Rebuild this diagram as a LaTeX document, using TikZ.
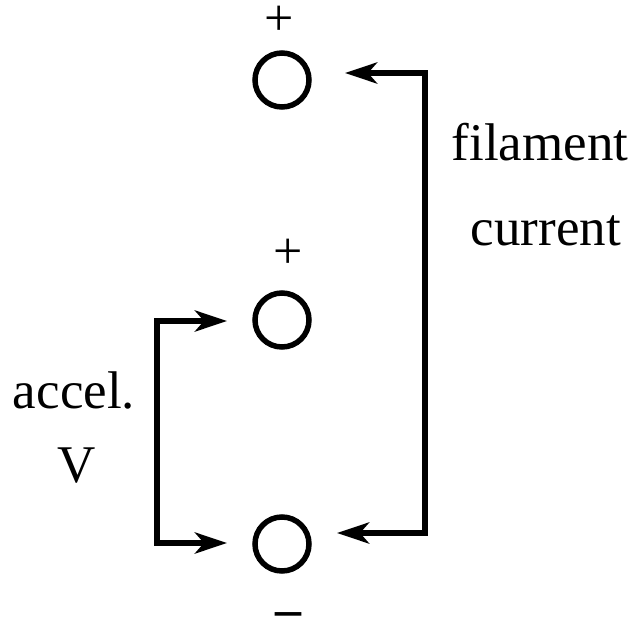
\documentclass[tikz,border=0pt]{standalone}
\usepackage{fontspec}
\setmainfont{Liberation Serif}
\usetikzlibrary{arrows.meta}
\begin{document}
\begin{tikzpicture}[x=1pt,y=-1pt,
  term/.style={circle,draw,line width=5.5pt,minimum size=54pt,inner sep=0pt},
  lbl/.style={font=\fontsize{53}{60}\selectfont,anchor=base,inner sep=0pt},
  sign/.style={font=\fontsize{52}{60}\selectfont,anchor=base,inner sep=0pt},
  wire/.style={line width=6pt,-{Stealth[length=32pt,width=21pt,inset=9pt]}}]
\useasboundingbox (0,0) rectangle (638,619);
\node[term] (c1) at (282,80) {};
\node[term] (c2) at (282,320) {};
\node[term] (c3) at (282,544) {};
\node[sign] (p1) at (279,35) {\raisebox{0pt}[\height][0pt]{+}};
\node[sign] (p2) at (288,268) {\raisebox{0pt}[\height][0pt]{+}};
\node[sign,font=\fontsize{52}{60}\selectfont\bfseries] (m3) at (288,616) {\raisebox{-10pt}[\height][0pt]{–}};
\node[lbl] (t1) at (540,160) {filament};
\node[lbl] (t2) at (546,245) {current};
\node[lbl] (t3) at (74,408) {accel.};
\node[lbl] (t4) at (77,482) {V};
\coordinate (fa) at (345,73);
\coordinate (fb) at (337,533);
\coordinate (aa) at (227,321);
\coordinate (ab) at (227,543);
\draw[wire] (425,533) -- (425,73) -- (fa);
\draw[wire] (425,73) -- (425,533) -- (fb);
\draw[wire] (157,543) -- (157,321) -- (aa);
\draw[wire] (157,321) -- (157,543) -- (ab);
\end{tikzpicture}
\end{document}
